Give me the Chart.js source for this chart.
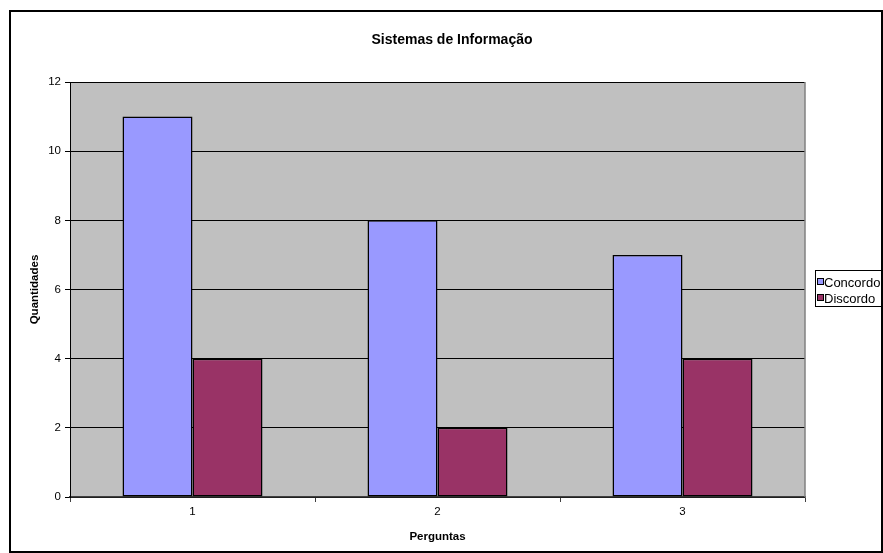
<!DOCTYPE html>
<html>
<head>
<meta charset="utf-8">
<script src="https://cdn.jsdelivr.net/npm/chart.js@4/dist/chart.umd.min.js"></script>
<style>
  html, body { margin: 0; padding: 0; background: #ffffff; }
  canvas { display: block; }
</style>
</head>
<body>
<canvas id="chart" width="883" height="553"></canvas>
<script>
// Survey answers per question
const categories = ['1', '2', '3'];
const seriesNames = ['Concordo', 'Discordo'];
const concordo = [11, 8, 7];
const discordo = [4, 2, 4];
const yTicks = [0, 2, 4, 6, 8, 10, 12];

const chartTitle = 'Sistemas de Informação';
const xTitle = 'Perguntas';
const yTitle = 'Quantidades';

const seriesColors = ['#9999FF', '#993366'];
const plotFill = '#C0C0C0';
const tickFont = { family: 'Liberation Sans, Arial', size: 11.5 };
const boldFont = { family: 'Liberation Sans, Arial', size: 11.5, weight: 'bold' };

// Grey plot background, white page, outer frame, title and legend
const frame = {
  id: 'frame',
  beforeDraw(chart) {
    const { ctx, chartArea: a } = chart;
    ctx.save();
    ctx.fillStyle = '#ffffff';
    ctx.fillRect(0, 0, chart.width, chart.height);
    ctx.fillStyle = plotFill;
    ctx.fillRect(a.left, a.top, a.right - a.left, a.bottom - a.top);
    ctx.restore();
  },
  afterDraw(chart) {
    const { ctx, chartArea: a } = chart;
    ctx.save();
    // plot area right edge
    ctx.strokeStyle = '#808080';
    ctx.lineWidth = 1.5;
    ctx.beginPath();
    ctx.moveTo(a.right, a.top);
    ctx.lineTo(a.right, a.bottom);
    ctx.stroke();

    // outer frame
    ctx.strokeStyle = '#000000';
    ctx.lineWidth = 2;
    ctx.strokeRect(10, 11, 872, 541);

    // title
    ctx.fillStyle = '#000000';
    ctx.font = 'bold 14px "Liberation Sans", Arial, sans-serif';
    ctx.textAlign = 'center';
    ctx.textBaseline = 'alphabetic';
    ctx.fillText(chartTitle, 452, 43.5);

    // legend
    const lx = 815.5, ly = 270.5, lw = 66, lh = 36;
    ctx.fillStyle = '#ffffff';
    ctx.fillRect(lx, ly, lw, lh);
    ctx.strokeStyle = '#000000';
    ctx.lineWidth = 1;
    ctx.strokeRect(lx, ly, lw, lh);
    ctx.font = '13px "Liberation Sans", Arial, sans-serif';
    ctx.textAlign = 'left';
    chart.data.datasets.forEach((ds, i) => {
      const sy = 278 + i * 16;
      ctx.fillStyle = ds.backgroundColor;
      ctx.fillRect(817, sy, 7, 7);
      ctx.strokeStyle = '#000000';
      ctx.strokeRect(817.5, sy + 0.5, 6, 6);
      ctx.fillStyle = '#000000';
      ctx.fillText(ds.label, 824, sy + 8.5);
    });
    ctx.restore();
  }
};

new Chart(document.getElementById('chart'), {
  type: 'bar',
  data: {
    labels: categories,
    datasets: [
      { label: seriesNames[0], data: concordo, backgroundColor: seriesColors[0], borderColor: '#000000', borderWidth: 1.5, borderSkipped: false },
      { label: seriesNames[1], data: discordo, backgroundColor: seriesColors[1], borderColor: '#000000', borderWidth: 1.5, borderSkipped: false }
    ]
  },
  options: {
    responsive: false,
    devicePixelRatio: 1,
    animation: false,
    layout: { padding: { top: 82, right: 78, bottom: 0, left: 0 } },
    datasets: { bar: { categoryPercentage: 140 / 245, barPercentage: 1 } },
    plugins: {
      legend: { display: false },
      title: { display: false },
      tooltip: { enabled: false }
    },
    scales: {
      x: {
        offset: true,
        grid: { offset: true, drawOnChartArea: false, drawTicks: true, tickLength: 5, color: '#404040' },
        border: { display: true, color: '#404040', width: 1.5 },
        ticks: { color: '#000000', font: tickFont, padding: 3, maxRotation: 0 },
        title: { display: true, text: xTitle, color: '#000000', font: boldFont, padding: { top: 0, bottom: 9.5 } },
        afterFit(scale) { scale.height = 56; }
      },
      y: {
        min: 0,
        max: 12,
        afterBuildTicks(scale) { scale.ticks = yTicks.map(v => ({ value: v })); },
        grid: { color: '#000000', lineWidth: 1, drawTicks: true, tickLength: 5 },
        border: { display: true, color: '#000000', width: 1 },
        ticks: { color: '#000000', font: tickFont, padding: 4 },
        title: { display: true, text: yTitle, color: '#000000', font: boldFont, padding: { top: 27.5, bottom: 0 } },
        afterFit(scale) { scale.width = 70; }
      }
    }
  },
  plugins: [frame]
});
</script>
</body>
</html>
